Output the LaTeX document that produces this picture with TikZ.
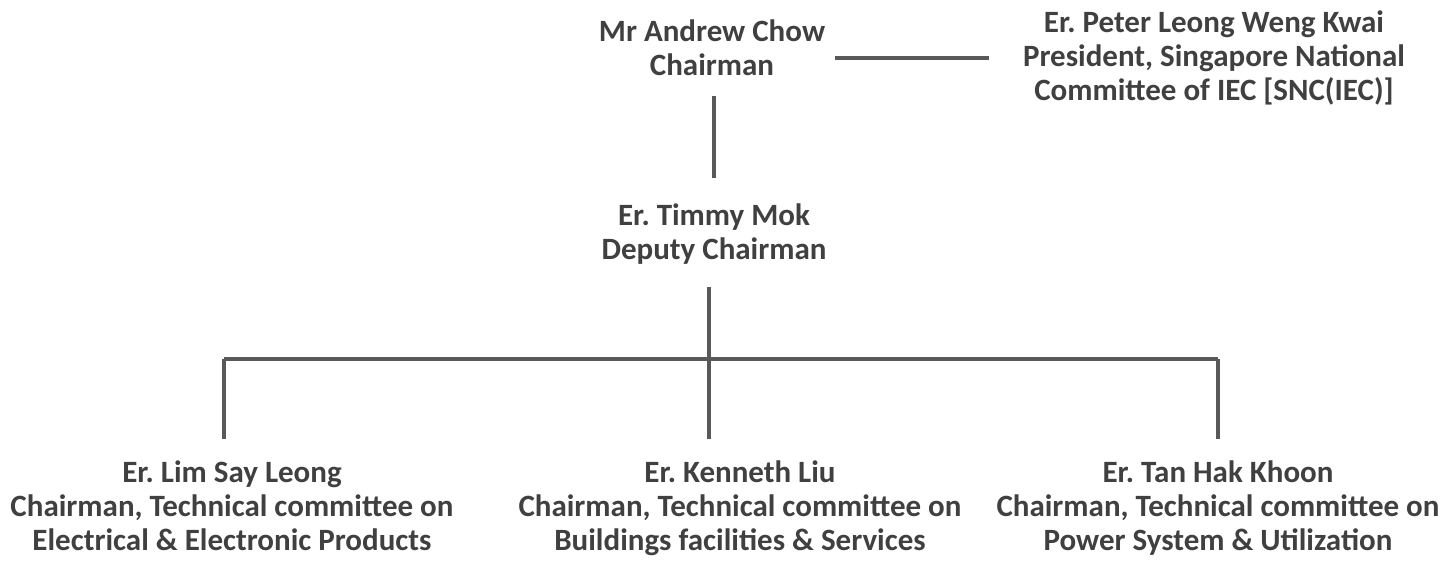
\documentclass[tikz,border=0pt]{standalone}
\usepackage{fontspec}
\setmainfont{Carlito}
\frenchspacing
\usepackage{tikz}
\usetikzlibrary{calc,positioning}
\definecolor{inkgray}{HTML}{404040}
\definecolor{linegray}{HTML}{595959}

\begin{document}
\begin{tikzpicture}
[x=1pt,y=-1pt,
person/.style={
text=inkgray,
align=center,
inner sep=4pt,
font=\fontsize{31}{34}\selectfont\bfseries},
member/.style={
person,
anchor=north},
link/.style={
draw=linegray,
line width=4pt}]
\useasboundingbox (0,0) rectangle (1446,567);

\node (andrew) at (712,48) [person] {Mr Andrew Chow\\Chairman};
\node (peter) at (1214,58) [person] {Er. Peter Leong Weng Kwai\\President, Singapore National\\Committee of IEC [SNC(IEC)]};
\node (timmy) at (714,234) [person] {Er. Timmy Mok\\Deputy Chairman};

\node (lim) at (232,457) [member] {Er. Lim Say Leong\\Chairman, Technical committee on\\Electrical \& Electronic Products};
\node (kenneth) at (740,457) [member] {Er. Kenneth Liu\\Chairman, Technical committee on\\Buildings facilities \& Services};
\node (tan) at (1218,457) [member] {Er. Tan Hak Khoon\\Chairman, Technical committee on\\Power System \& Utilization};

\coordinate (bus) at (709,359);
\coordinate (limtop) at (224,359);
\coordinate (tantop) at (1218,359);

\draw[link,shorten <=6pt,shorten >=30pt] (andrew.east |- peter.west) -- (peter.west);
\draw[link,shorten <=16pt,shorten >=21pt] (714,0 |- andrew.south) -- (714,0 |- timmy.north);

\draw[link,shorten <=18pt] (bus |- timmy.south) -- (bus);
\draw[link,shorten >=18pt] (bus) -- (bus |- kenneth.north);
\draw[link] (limtop) -- (tantop);
\draw[link,shorten >=18pt] (limtop) -- (limtop |- lim.north);
\draw[link,shorten >=18pt] (tantop) -- (tantop |- tan.north);

\end{tikzpicture}
\end{document}
